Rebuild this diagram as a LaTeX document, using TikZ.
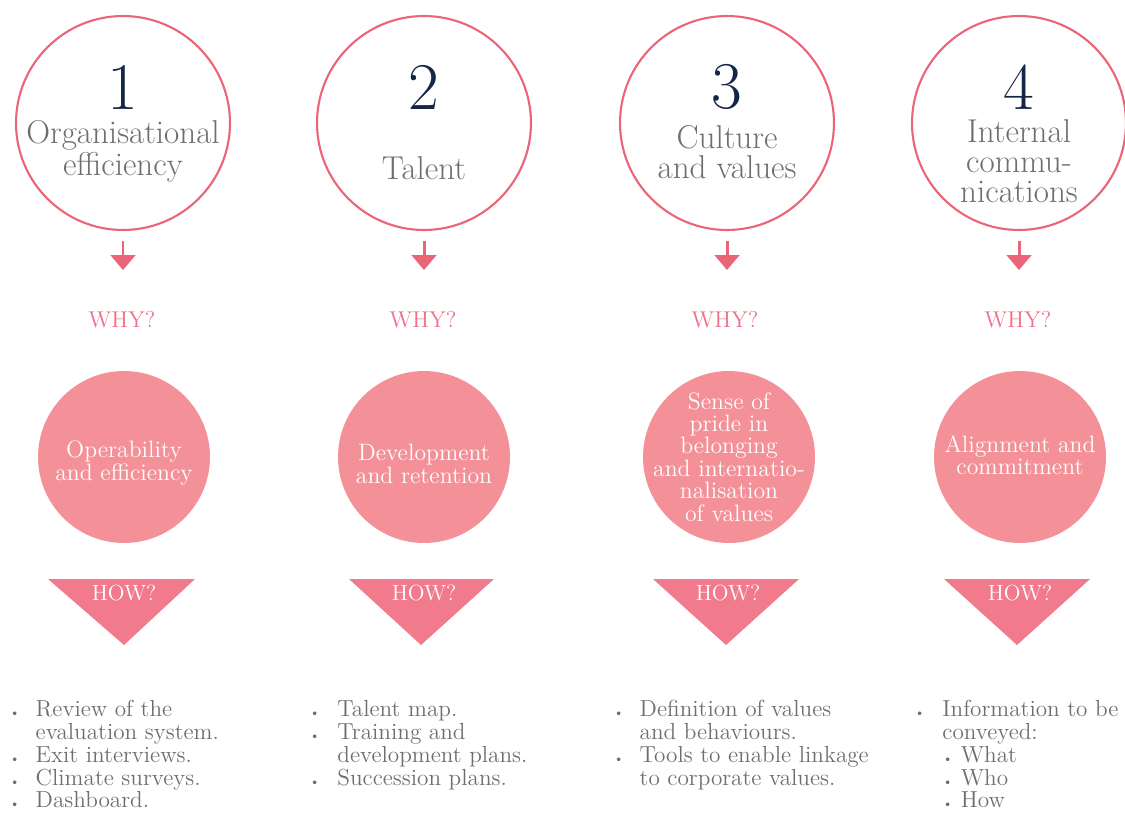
\documentclass[tikz,border=0pt]{standalone}
\usepackage{fontspec}
\usepackage{tikz}
\usetikzlibrary{
    arrows.meta,
    positioning
}
\definecolor{ringpink}{RGB}{236,100,120}
\definecolor{whypink}{RGB}{239,112,136}
\definecolor{discpink}{RGB}{244,145,152}
\definecolor{howpink}{RGB}{241,122,141}
\definecolor{navy}{RGB}{20,40,70}
\definecolor{txtgray}{RGB}{110,110,110}
\tikzset{
  ring/.style     = {draw=ringpink, line width=1.2pt, circle,
                     minimum size=4.28cm, inner sep=0pt},
  disc/.style     = {fill=discpink, circle, minimum size=3.44cm,
                     inner sep=0pt},
  disctext/.style = {text=white, align=center,
                     font=\fontsize{13.5}{12.8}\selectfont},
  num/.style      = {text=navy, font=\fontsize{38}{40}\selectfont},
  title/.style    = {text=txtgray, align=center,
                     font=\fontsize{18.8}{17}\selectfont},
  why/.style      = {text=whypink, font=\fontsize{13}{14}\selectfont},
  how/.style      = {text=white, font=\fontsize{12.5}{14}\selectfont},
  howtri/.style   = {fill=howpink},
  downarr/.style  = {-{Triangle[width=14pt,length=8.5pt]}, draw=ringpink,
                     line width=1.7pt, shorten <=0.2cm},
  list/.style     = {text=txtgray, anchor=north west, inner sep=0pt,
                     font=\fontsize{13.2}{12.75}\selectfont}
}
\newcommand{\bul}{{\fontsize{7}{7}\selectfont\textbullet}}

\begin{document}
\begin{tikzpicture}[x=0.02cm, y=-0.02cm]
\useasboundingbox (0,0) rectangle (1125,812);

% rings
\node[ring] (r1) at (123,123) {};
\node[ring] (r2) at (424,123) {};
\node[ring] (r3) at (727,123) {};
\node[ring] (r4) at (1019,123) {};

% numbers and titles
\node[num] (n1) at (123,87) {1};
\node[num] (n2) at (424,87) {2};
\node[num] (n3) at (727,87) {3};
\node[num] (n4) at (1019,87) {4};
\node[title] (t1) at (123,151) {Organisational\\efficiency};
\node[title] (t2) at (424,168) {Talent};
\node[title] (t3) at (727,152) {Culture\\and values};
\node[title] (t4) at (1019,161) {Internal\\commu-\\nications};

% arrows down to WHY?
\coordinate (a1) at (123,270);
\coordinate (a2) at (424,270);
\coordinate (a3) at (727,270);
\coordinate (a4) at (1019,270);
\draw[downarr] (r1.south) -- (a1);
\draw[downarr] (r2.south) -- (a2);
\draw[downarr] (r3.south) -- (a3);
\draw[downarr] (r4.south) -- (a4);

\node[why] (w1) at (122,320) {WHY?};
\node[why] (w2) at (423,320) {WHY?};
\node[why] (w3) at (725,320) {WHY?};
\node[why] (w4) at (1018,320) {WHY?};

% discs
\node[disc] (d1) at (124,457) {};
\node[disc] (d2) at (424,457) {};
\node[disc] (d3) at (729,457) {};
\node[disc] (d4) at (1020,457) {};
\node[disctext] (dt1) at (124,463) {Operability\\and efficiency};
\node[disctext] (dt2) at (424,464) {Development\\and retention};
\node[disctext] (dt3) at (729,457) {Sense of\\pride in\\belonging\\and internatio-\\nalisation\\of values};
\node[disctext] (dt4) at (1020,455) {Alignment and\\commitment};

% HOW? triangles
\fill[howtri] (48,579) -- (195,579) -- (124,645) -- cycle;
\fill[howtri] (349,579) -- (494,579) -- (421,645) -- cycle;
\fill[howtri] (653,579) -- (799,579) -- (726,645) -- cycle;
\fill[howtri] (944,579) -- (1090,579) -- (1017,645) -- cycle;
\node[how] (h1) at (124,593) {HOW?};
\node[how] (h2) at (424,593) {HOW?};
\node[how] (h3) at (728,593) {HOW?};
\node[how] (h4) at (1020,593) {HOW?};

% lists
\node[list] (l1) at (9,700) {\begin{tabular}{@{}p{15pt}@{}l@{}}
  \bul & Review of the\\
       & evaluation system.\\
  \bul & Exit interviews.\\
  \bul & Climate surveys.\\
  \bul & Dashboard.
\end{tabular}};
\node[list] (l2) at (309,700) {\begin{tabular}{@{}p{16pt}@{}l@{}}
  \bul & Talent map.\\
  \bul & Training and\\
       & development plans.\\
  \bul & Succession plans.
\end{tabular}};
\node[list] (l3) at (613,700) {\begin{tabular}{@{}p{15pt}@{}l@{}}
  \bul & Definition of values\\
       & and behaviours.\\
  \bul & Tools to enable linkage\\
       & to corporate values.
\end{tabular}};
\node[list] (l4) at (914,700) {\begin{tabular}{@{}p{16pt}@{}l@{}}
  \bul & Information to be\\
       & conveyed:\\
       & \bul\ What\\
       & \bul\ Who\\
       & \bul\ How
\end{tabular}};

\end{tikzpicture}
\end{document}
